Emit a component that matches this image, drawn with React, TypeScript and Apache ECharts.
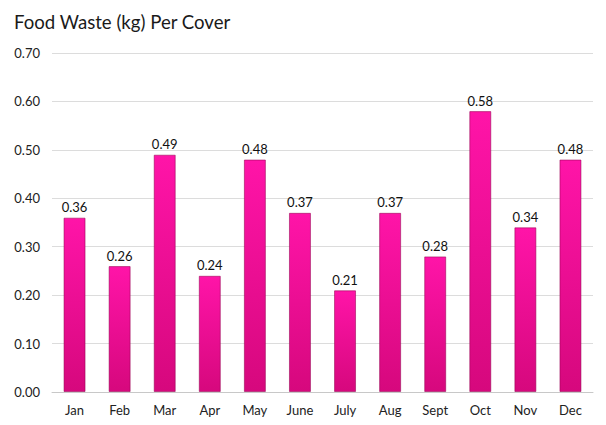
import React, { useEffect, useRef } from "react";
import * as echarts from "echarts";

const months = ["Jan", "Feb", "Mar", "Apr", "May", "June", "July", "Aug", "Sept", "Oct", "Nov", "Dec"];
const wastePerCover = [0.36, 0.26, 0.49, 0.24, 0.48, 0.37, 0.21, 0.37, 0.28, 0.58, 0.34, 0.48];
const yTicks = { min: 0, max: 0.7, interval: 0.1 };

export default function App() {
  const ref = useRef<HTMLDivElement>(null);
  useEffect(() => {
    if (!ref.current) return;
    const chart = echarts.init(ref.current, undefined, { renderer: "svg" });
    const font = "Lato, 'Open Sans', sans-serif";
    chart.setOption({
      animation: false,
      title: {
        text: "Food Waste (kg) Per Cover",
        left: 9,
        top: 7,
        textStyle: { fontFamily: font, fontSize: 18.6, fontWeight: "normal", color: "#1a1a1a" },
      },
      grid: { left: 52, right: 13, top: 53, bottom: 33 },
      xAxis: {
        type: "category",
        data: months,
        axisTick: { show: false },
        axisLine: { lineStyle: { color: "#c8c8c8" } },
        axisLabel: { fontFamily: font, fontSize: 13, color: "#222", margin: 11 },
      },
      yAxis: {
        type: "value",
        min: yTicks.min,
        max: yTicks.max,
        interval: yTicks.interval,
        axisLabel: {
          fontFamily: font,
          fontSize: 13,
          color: "#222",
          margin: 12,
          formatter: (v: number) => v.toFixed(2),
        },
        splitLine: { lineStyle: { color: "#dcdcdc" } },
      },
      series: [
        {
          type: "bar",
          data: wastePerCover,
          barWidth: 22,
          itemStyle: {
            color: new echarts.graphic.LinearGradient(0, 0, 0, 1, [
              { offset: 0, color: "#ff14a8" },
              { offset: 1, color: "#d6087d" },
            ]),
            borderColor: "rgba(150,0,80,0.55)",
            borderWidth: 1,
          },
          label: {
            show: true,
            position: "top",
            distance: 4,
            fontFamily: font,
            fontSize: 13,
            color: "#111",
            formatter: (p: any) => Number(p.value).toFixed(2),
          },
        },
      ],
    });
    return () => chart.dispose();
  }, []);
  return (
    <div
      ref={ref}
      style={{ position: "fixed", left: 0, top: 0, width: 606, height: 425, background: "#fff" }}
    />
  );
}
